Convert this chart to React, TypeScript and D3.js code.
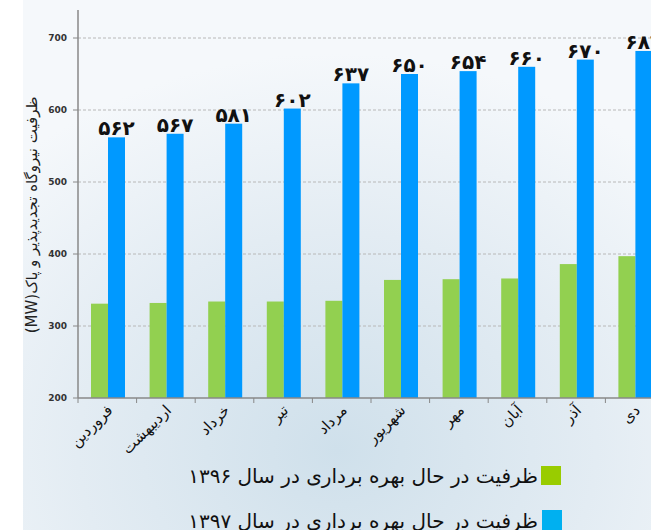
import React from "react";
import * as d3 from "d3";

const categories = ["فروردین", "اردیبهشت", "خرداد", "تیر", "مرداد", "شهریور", "مهر", "آبان", "آذر", "دی"];
const values1396 = [331, 332, 334, 334, 335, 364, 365, 366, 386, 397];
const values1397 = [562, 567, 581, 602, 637, 650, 654, 660, 670, 682];
const yTicks = [200, 300, 400, 500, 600, 700];
const seriesNames = ["ظرفیت در حال بهره برداری در سال ۱۳۹۶", "ظرفیت در حال بهره برداری در سال ۱۳۹۷"];
const yTitle = "ظرفیت نیروگاه تجدیدپذیر و پاک(MW)";

const faDigits = "۰۱۲۳۴۵۶۷۸۹";
const toFa = (n: number) => String(n).replace(/\d/g, (d) => faDigits[+d]);

export default function App() {
  const W = 651, H = 530;
  const x0 = 78, bandW = 58.6;
  const x = d3.scaleBand<string>().domain(categories).range([x0, x0 + bandW * categories.length]).padding(0);
  const inner = d3.scaleBand<string>().domain(["a", "b"]).range([13, 47]).padding(0);
  const y = d3.scaleLinear().domain([200, 700]).range([398, 38]);
  const font = "'DejaVu Sans', sans-serif";

  return (
    <svg width={W} height={H} style={{ position: "absolute", left: 0, top: 0 }}>
      <defs>
        <radialGradient id="bg" cx="0.5" cy="0.85" r="0.75" fx="0.5" fy="0.85">
          <stop offset="0" stopColor="#cfe0eb" />
          <stop offset="0.55" stopColor="#e3ecf3" />
          <stop offset="1" stopColor="#f5f8fb" />
        </radialGradient>
      </defs>
      <rect x={0} y={0} width={W} height={H} fill="#ffffff" />
      <rect x={23} y={0} width={W - 23} height={H} fill="url(#bg)" />

      {/* grid */}
      {yTicks.filter((t) => t > 200).map((t) => (
        <line key={t} x1={x0} x2={W} y1={y(t)} y2={y(t)} stroke="#b8b8b8" strokeWidth={1} strokeDasharray="3,2" />
      ))}

      {/* bars */}
      {categories.map((c, i) => {
        const bx = x(c)!;
        return (
          <g key={c}>
            <rect x={bx + inner("a")!} y={y(values1396[i])} width={inner.bandwidth()} height={y(200) - y(values1396[i])} fill="#92d050" />
            <rect x={bx + inner("b")!} y={y(values1397[i])} width={inner.bandwidth()} height={y(200) - y(values1397[i])} fill="#0099ff" />
            <text x={bx + inner("b")! + inner.bandwidth() / 2} y={y(values1397[i]) - 2} textAnchor="middle" fontFamily={font} fontWeight="bold" fontSize={20} fill="#111">
              {toFa(values1397[i])}
            </text>
          </g>
        );
      })}

      {/* y axis */}
      <line x1={x0} x2={x0} y1={10} y2={y(200)} stroke="#888" strokeWidth={1.5} />
      {yTicks.map((t) => (
        <g key={t}>
          <line x1={x0 - 5} x2={x0} y1={y(t)} y2={y(t)} stroke="#888" strokeWidth={1} />
          <text x={67} y={y(t) + 3} textAnchor="end" fontFamily={font} fontWeight="bold" fontSize={9} fill="#333">{t}</text>
        </g>
      ))}

      {/* x axis */}
      <line x1={x0} x2={W} y1={y(200)} y2={y(200)} stroke="#888" strokeWidth={1.5} />
      {categories.map((c) => (
        <line key={c} x1={x(c)!} x2={x(c)!} y1={y(200)} y2={y(200) + 5} stroke="#888" strokeWidth={1} />
      ))}
      {categories.map((c) => (
        <text key={c} transform={`translate(${x(c)! + bandW / 2 + 3},${y(200) + 10}) rotate(-45)`} textAnchor="end" fontFamily={font} fontSize={15} fill="#111" dy="0.3em">
          {c}
        </text>
      ))}

      {/* y title */}
      <text transform={`translate(37,215) rotate(-90)`} direction="rtl" textAnchor="middle" fontFamily={font} fontSize={15} fill="#222">{yTitle}</text>

      {/* legend */}
      <rect x={541} y={466} width={20} height={19} fill="#99cc00" />
      <text x={538} y={483} textAnchor="end" fontFamily={font} fontSize={20} fill="#111">{seriesNames[0]}</text>
      <rect x={542} y={510} width={20} height={20} fill="#00b0f0" />
      <text x={538} y={528} textAnchor="end" fontFamily={font} fontSize={20} fill="#111">{seriesNames[1]}</text>
    </svg>
  );
}
